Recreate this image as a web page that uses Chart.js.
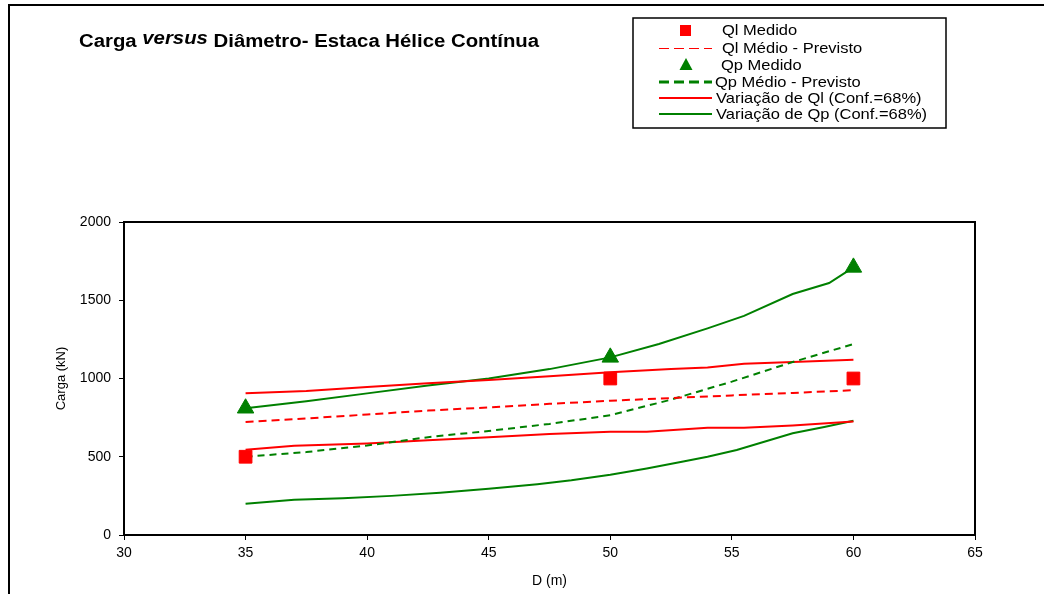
<!DOCTYPE html>
<html>
<head>
<meta charset="utf-8">
<script src="https://cdn.jsdelivr.net/npm/chart.js@4.4.0/dist/chart.umd.min.js"></script>
<style>
  html, body { margin: 0; padding: 0; background: #fff; }
  #wrap { width: 1044px; height: 594px; position: relative; }
</style>
</head>
<body>
<div id="wrap"><canvas id="chart" width="1044" height="594"></canvas></div>
<script>
// --- DATA ---
const xTicks = [30, 35, 40, 45, 50, 55, 60, 65];
const yTicks = [0, 500, 1000, 1500, 2000];

const qlMedidoD = [35, 50, 60];
const qlMedidoVals = [500, 1000, 1000];

const qpMedidoD = [35, 50, 60];
const qpMedidoVals = [810, 1135, 1710];

const qlPrevD = [35, 37.5, 40, 42.5, 45, 47.5, 50, 52.5, 55, 57.5, 60];
const qlPrevVals = [722, 745, 770, 795, 815, 838, 858, 875, 892, 908, 925];

const qpPrevD = [35, 37.5, 40, 42.5, 45, 47.5, 50, 52.5, 55, 57.5, 60];
const qpPrevVals = [500, 530, 572, 625, 665, 710, 765, 865, 980, 1105, 1220];

const qlSupD = [35, 37.5, 40, 42.5, 45, 47.5, 50, 52.5, 54, 55.5, 57.5, 60];
const qlSupVals = [905, 920, 945, 970, 990, 1015, 1040, 1060, 1070, 1095, 1105, 1120];

const qlInfD = [35, 37, 40, 42.5, 45, 47.5, 50, 51.5, 54, 55.5, 57.5, 60];
const qlInfVals = [545, 570, 585, 605, 625, 645, 660, 660, 685, 685, 700, 725];

const qpSupD = [35, 37.5, 40, 42.5, 45, 47.5, 50, 52, 54, 55.5, 57.5, 59, 60];
const qpSupVals = [810, 855, 905, 955, 1000, 1060, 1135, 1220, 1320, 1400, 1540, 1610, 1710];

const qpInfD = [35, 37, 39, 41, 43, 45, 47, 48.4, 50, 51.5, 53, 54, 55.2, 57.5, 58.8, 60];
const qpInfVals = [200, 225, 235, 250, 270, 295, 325, 350, 385, 425, 470, 500, 543, 650, 690, 730];

const legendLabels = ['Ql Medido', 'Ql Médio - Previsto', 'Qp Medido', 'Qp Médio - Previsto',
    'Variação de Ql (Conf.=68%)', 'Variação de Qp (Conf.=68%)'];

const RED = '#FF0000';
const GREEN = '#008000';
const FONT = '"Liberation Sans", Arial, sans-serif';

const pts = (xs, ys) => xs.map((x, i) => ({ x, y: ys[i] }));

function lineSet(xs, ys, color, dash) {
    return {
        data: pts(xs, ys), showLine: true, borderColor: color, borderWidth: 2,
        borderDash: dash || [], pointRadius: 0, fill: false, tension: 0
    };
}

// draws text stretched horizontally (the original render is wide)
function wideText(ctx, text, x, y, sx) {
    ctx.save();
    ctx.translate(x, y);
    ctx.scale(sx, 1);
    ctx.fillText(text, 0, 0);
    ctx.restore();
    return ctx.measureText(text).width * sx;
}

// --- PLUGINS ---
const framePlugin = {
    id: 'frame',
    beforeDraw(chart) {
        const ctx = chart.ctx;
        ctx.save();
        ctx.fillStyle = '#fff';
        ctx.fillRect(0, 0, chart.width, chart.height);
        ctx.strokeStyle = '#000';
        ctx.lineWidth = 2;
        ctx.beginPath();
        ctx.moveTo(9, chart.height);
        ctx.lineTo(9, 5);
        ctx.lineTo(chart.width, 5);
        ctx.stroke();
        ctx.restore();
    },
    afterDraw(chart) {
        const { ctx, chartArea: a } = chart;
        ctx.save();
        ctx.strokeStyle = '#000';
        ctx.lineWidth = 2;
        ctx.strokeRect(a.left, a.top, a.right - a.left, a.bottom - a.top);

        // title with italic "versus"
        const sx = 1.13;
        let x = 79;
        const base = 47;
        ctx.fillStyle = '#000';
        ctx.textBaseline = 'alphabetic';
        ctx.font = 'bold 18px ' + FONT;
        x += wideText(ctx, 'Carga ', x, base, sx);
        ctx.font = 'italic bold 18px ' + FONT;
        x += wideText(ctx, 'versus', x, base - 3, sx);
        ctx.font = 'bold 18px ' + FONT;
        x += ctx.measureText(' ').width * sx;
        wideText(ctx, 'Diâmetro- Estaca Hélice Contínua', x, base, sx);

        // legend box
        ctx.lineWidth = 1.5;
        ctx.strokeRect(633, 18, 313, 110);
        const rows = [30, 48, 65, 82, 98, 114];
        const textX = [722, 722, 721, 715, 716, 716];
        ctx.font = '15px ' + FONT;
        ctx.textBaseline = 'middle';
        ctx.fillStyle = '#000';
        legendLabels.forEach((lab, i) => {
            wideText(ctx, lab, textX[i], rows[i] + 1, 1.1);
        });
        // symbols
        ctx.fillStyle = RED;
        ctx.fillRect(680, rows[0] - 5, 11, 11);
        ctx.fillStyle = GREEN;
        ctx.beginPath();
        ctx.moveTo(686, rows[2] - 7);
        ctx.lineTo(692.5, rows[2] + 5);
        ctx.lineTo(679.5, rows[2] + 5);
        ctx.closePath();
        ctx.fill();
        const seg = (y, color, w, dash) => {
            ctx.strokeStyle = color;
            ctx.lineWidth = w;
            ctx.setLineDash(dash);
            ctx.beginPath();
            ctx.moveTo(659, y);
            ctx.lineTo(712, y);
            ctx.stroke();
        };
        seg(rows[1] + 0.5, RED, 1, [10, 5]);
        seg(rows[3], GREEN, 3, [10, 5]);
        seg(rows[4], RED, 2, []);
        seg(rows[5], GREEN, 2, []);
        ctx.restore();
    }
};

// --- CHART ---
new Chart(document.getElementById('chart'), {
    type: 'scatter',
    data: {
        datasets: [
            { data: pts(qlMedidoD, qlMedidoVals), pointStyle: 'rect', pointRadius: 9, pointBackgroundColor: RED, pointBorderColor: RED, pointBorderWidth: 1, showLine: false },
            { data: pts(qpMedidoD, qpMedidoVals), pointStyle: 'triangle', pointRadius: 9.5, pointBackgroundColor: GREEN, pointBorderColor: GREEN, pointBorderWidth: 1, showLine: false },
            lineSet(qlPrevD, qlPrevVals, RED, [8, 5]),
            lineSet(qpPrevD, qpPrevVals, GREEN, [7, 5]),
            lineSet(qlSupD, qlSupVals, RED),
            lineSet(qlInfD, qlInfVals, RED),
            lineSet(qpSupD, qpSupVals, GREEN),
            lineSet(qpInfD, qpInfVals, GREEN)
        ]
    },
    options: {
        responsive: false,
        animation: false,
        layout: { padding: { top: 222, right: 69, bottom: 0, left: 0 } },
        plugins: { legend: { display: false }, tooltip: { enabled: false } },
        scales: {
            x: {
                type: 'linear', min: 30, max: 65,
                afterBuildTicks: s => { s.ticks = xTicks.map(v => ({ value: v })); },
                afterFit: s => { s.height = 59; },
                grid: { drawOnChartArea: false, tickLength: 5, tickColor: '#000', tickWidth: 1 },
                border: { color: '#000', width: 2 },
                ticks: { color: '#000', font: { family: FONT, size: 14 }, padding: 5, maxRotation: 0, callback: v => String(v) },
                title: { display: true, text: 'D (m)', color: '#000', font: { family: FONT, size: 14 }, padding: { top: 0, bottom: 4 } }
            },
            y: {
                type: 'linear', min: 0, max: 2000,
                afterBuildTicks: s => { s.ticks = yTicks.map(v => ({ value: v })); },
                afterFit: s => { s.width = 124; },
                grid: { drawOnChartArea: false, tickLength: 5, tickColor: '#000', tickWidth: 1 },
                border: { color: '#000', width: 2 },
                ticks: { color: '#000', font: { family: FONT, size: 14 }, padding: 8, callback: v => String(v) },
                title: { display: true, text: 'Carga (kN)', color: '#000', font: { family: FONT, size: 13 }, padding: { top: 54, bottom: 0 } }
            }
        }
    },
    plugins: [framePlugin]
});
</script>
</body>
</html>
